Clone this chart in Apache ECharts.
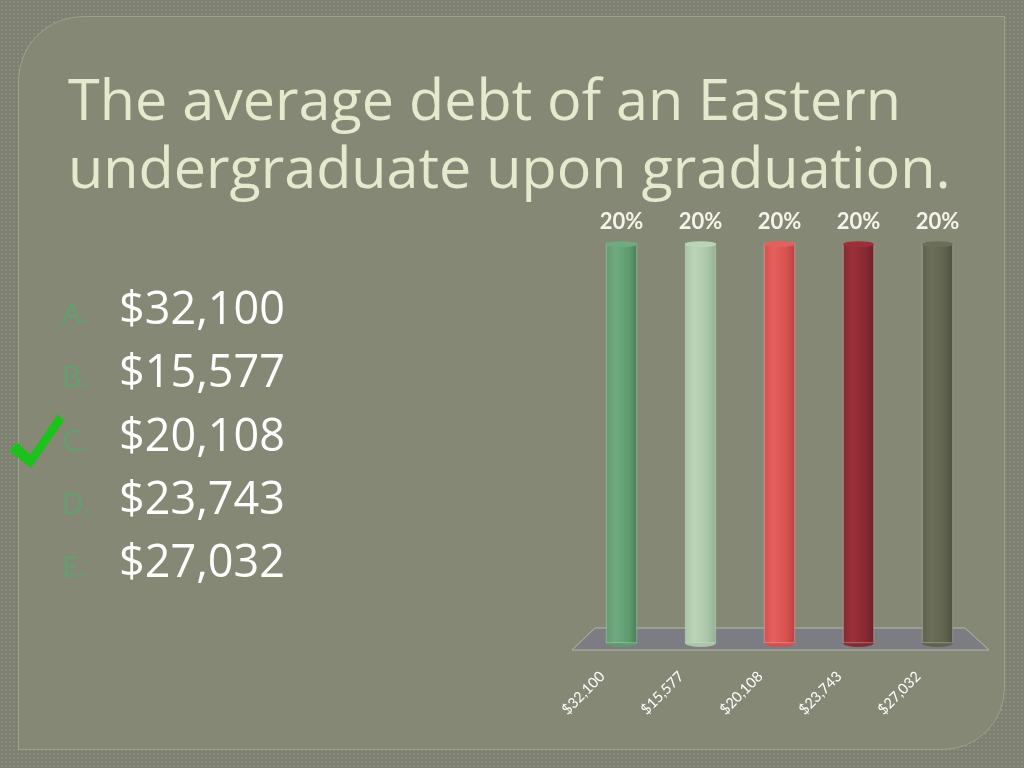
<!DOCTYPE html>
<html><head><meta charset="utf-8">
<script src="https://cdn.jsdelivr.net/npm/echarts@6/dist/echarts.min.js"></script>
<style>
html,body{margin:0;padding:0;width:1024px;height:768px;overflow:hidden;}
body{background-color:#7d8070;background-image:radial-gradient(circle,#8b8e7d 0.9px,transparent 1.3px);background-size:4px 4px;}
#panel{position:absolute;left:18px;top:16px;width:987px;height:734px;background:#868876;border:1px solid #9ea08e;border-radius:65px 0 62px 0;box-sizing:border-box;}
#chart{position:absolute;left:0;top:0;width:1024px;height:768px;}
</style></head>
<body><div id="panel"></div><div id="chart"></div>
<script>
const titleLines = ['The average debt of an Eastern', 'undergraduate upon graduation.'];
const optionLetters = ['A.', 'B.', 'C.', 'D.', 'E.'];
const categories = ['$32,100', '$15,577', '$20,108', '$23,743', '$27,032'];
const percentages = [20, 20, 20, 20, 20];
const correctIndex = 2;
const barColors = [
  ['#6fab7e', '#5f9b6e', '#4a7d57'],
  ['#bad4b8', '#a9c5a8', '#93b092'],
  ['#e4605e', '#d54f4e', '#b84242'],
  ['#9a3038', '#862a31', '#6c2228'],
  ['#6b6f58', '#5f624d', '#4f523f']
];

const chart = echarts.init(document.getElementById('chart'), null, {renderer: 'canvas'});

function grad(c) {
  return new echarts.graphic.LinearGradient(0, 0, 1, 0, [
    {offset: 0, color: c[1]}, {offset: 0.3, color: c[0]}, {offset: 0.75, color: c[1]}, {offset: 1, color: c[2]}
  ]);
}

const graphics = [];
titleLines.forEach((t, i) => {
  graphics.push({type: 'text', x: 68, y: 104 + i * 68, z: 10,
    style: {text: t, font: '57.5px "Open Sans"', fill: '#e6eacd', verticalAlign: 'middle'}});
});
const rowY = [311, 374, 438, 501, 564];
categories.forEach((c, i) => {
  graphics.push({type: 'text', x: 62, y: rowY[i] + 4, z: 10,
    style: {text: optionLetters[i], font: '30px "Open Sans"', fill: '#62a06f', verticalAlign: 'middle'}});
  graphics.push({type: 'text', x: 119, y: rowY[i], z: 10,
    style: {text: c, font: '45px "Open Sans"', fill: '#ffffff', verticalAlign: 'middle'}});
});
// check mark next to the correct answer
graphics.push({type: 'polygon', z: 11,
  shape: {points: [[9, 451], [17, 442], [30, 455], [58, 414], [64, 421], [31, 468]]},
  style: {fill: '#1cc21c'}});
// 3D floor
graphics.push({type: 'polygon', z: 0,
  shape: {points: [[572, 650], [595, 628], [965, 628], [989, 650]]},
  style: {fill: '#7c7d83', stroke: '#b5b7aa', lineWidth: 1}});

const option = {
  animation: false,
  grid: {left: 582, width: 395, top: 243, height: 400},
  xAxis: {
    type: 'category', data: categories,
    axisLine: {show: false}, axisTick: {show: false},
    axisLabel: {rotate: 45, margin: 12, padding: [0, 27, 0, 0], color: '#ffffff', fontFamily: 'Lato', fontSize: 14.5, interval: 0}
  },
  yAxis: {type: 'value', min: 0, max: 20, show: false, splitLine: {show: false}},
  graphic: graphics,
  series: [
    {
      type: 'bar', barWidth: 31, z: 3,
      data: percentages.map((v, i) => ({value: v, itemStyle: {color: grad(barColors[i])}})),
      itemStyle: {borderColor: 'rgba(225,230,210,0.6)', borderWidth: 0.6},
      label: {show: true, position: 'top', distance: 10, formatter: '{c}%', color: '#f6f4ea',
        fontFamily: 'Lato', fontWeight: 'bold', fontSize: 22}
    },
    {
      type: 'pictorialBar', symbol: 'circle', symbolSize: [31, 6], symbolPosition: 'end',
      symbolOffset: [0, '-30%'], z: 4,
      data: percentages.map((v, i) => ({value: v, itemStyle: {color: barColors[i][0]}}))
    },
    {
      type: 'pictorialBar', symbol: 'circle', symbolSize: [31, 8], symbolPosition: 'start',
      symbolOffset: [0, '50%'], z: 2,
      data: percentages.map((v, i) => ({value: v, itemStyle: {color: barColors[i][1]}}))
    }
  ]
};
chart.setOption(option);
</script>
</body></html>
